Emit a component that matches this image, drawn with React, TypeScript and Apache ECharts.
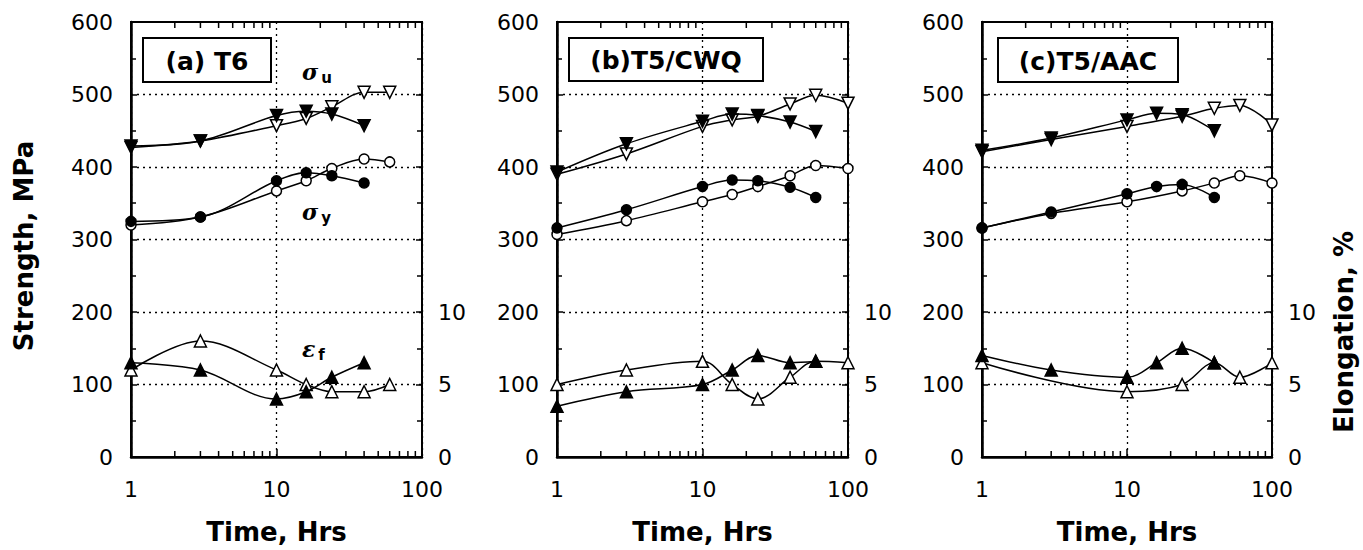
import React, { useEffect, useRef } from "react";
import * as echarts from "echarts";

// ---------- data ----------
const TIME_TICKS_MINOR = [2, 3, 4, 5, 6, 7, 8, 9, 20, 30, 40, 50, 60, 70, 80, 90];
const STRENGTH_LABEL_MAX = 600;
const ELONG_LABELS = [0, 5, 10];

// (a) T6
const aUtsFilled = [[1, 429], [3, 436], [10, 471], [16, 477], [24, 473], [40, 457]];
const aUtsOpen = [[1, 427], [3, 436], [10, 457], [16, 467], [24, 483], [40, 503], [60, 503]];
const aYsFilled = [[1, 325], [3, 331], [10, 381], [16, 392], [24, 388], [40, 378]];
const aYsOpen = [[1, 320], [3, 331], [10, 367], [16, 381], [24, 398], [40, 411], [60, 407]];
const aElFilled = [[1, 6.5], [3, 6.0], [10, 4.0], [16, 4.5], [24, 5.5], [40, 6.5]];
const aElOpen = [[1, 6.0], [3, 8.0], [10, 6.0], [16, 5.0], [24, 4.5], [40, 4.5], [60, 5.0]];

// (b) T5/CWQ
const bUtsFilled = [[1, 393], [3, 432], [10, 463], [16, 473], [24, 471], [40, 462], [60, 449]];
const bUtsOpen = [[1, 390], [3, 418], [10, 456], [16, 465], [24, 470], [40, 487], [60, 499], [100, 488]];
const bYsFilled = [[1, 316], [3, 341], [10, 373], [16, 382], [24, 381], [40, 372], [60, 358]];
const bYsOpen = [[1, 307], [3, 326], [10, 352], [16, 362], [24, 373], [40, 388], [60, 402], [100, 398]];
const bElFilled = [[1, 3.5], [3, 4.5], [10, 5.0], [16, 6.0], [24, 7.0], [40, 6.5], [60, 6.6]];
const bElOpen = [[1, 5.0], [3, 6.0], [10, 6.6], [16, 5.0], [24, 4.0], [40, 5.5], [60, 6.6], [100, 6.5]];

// (c) T5/AAC
const cUtsFilled = [[1, 423], [3, 440], [10, 465], [16, 474], [24, 472], [40, 450]];
const cUtsOpen = [[1, 421], [3, 438], [10, 456], [24, 470], [40, 481], [60, 485], [100, 458]];
const cYsFilled = [[1, 316], [3, 338], [10, 363], [16, 373], [24, 376], [40, 358]];
const cYsOpen = [[1, 316], [3, 336], [10, 352], [24, 367], [40, 378], [60, 388], [100, 378]];
const cElFilled = [[1, 7.0], [3, 6.0], [10, 5.5], [16, 6.5], [24, 7.5], [40, 6.5]];
const cElOpen = [[1, 6.5], [10, 4.5], [24, 5.0], [40, 6.5], [60, 5.5], [100, 6.5]];

const panelLabels = ["(a) T6", "(b)T5/CWQ", "(c)T5/AAC"];

const panelData = [
  { utsF: aUtsFilled, utsO: aUtsOpen, ysF: aYsFilled, ysO: aYsOpen, elF: aElFilled, elO: aElOpen },
  { utsF: bUtsFilled, utsO: bUtsOpen, ysF: bYsFilled, ysO: bYsOpen, elF: bElFilled, elO: bElOpen },
  { utsF: cUtsFilled, utsO: cUtsOpen, ysF: cYsFilled, ysO: cYsOpen, elF: cElFilled, elO: cElOpen },
];

// ---------- layout ----------
const grids = [
  { left: 131, width: 291 },
  { left: 557, width: 291 },
  { left: 982, width: 290 },
];
const GRID_TOP = 22;
const GRID_H = 438;
const boxes = [
  { x: 143, y: 38, w: 128, h: 44 },
  { x: 569, y: 38, w: 194, h: 43 },
  { x: 998, y: 38, w: 180, h: 44 },
];

const FONT = "DejaVu Sans";

export default function App() {
  const ref = useRef<HTMLDivElement>(null);

  useEffect(() => {
    document.body.style.margin = "0";
    const chart = echarts.init(ref.current!, null, { renderer: "svg" });

    const grid: any[] = [];
    const xAxis: any[] = [];
    const yAxis: any[] = [];
    const series: any[] = [];
    const graphic: any[] = [];

    const lineSeries = (
      data: number[][],
      xi: number,
      yi: number,
      symbol: string,
      filled: boolean,
      rotate: number,
      size: number
    ) => ({
      type: "line",
      xAxisIndex: xi,
      yAxisIndex: yi,
      data,
      smooth: 0.35,
      symbol,
      symbolSize: size,
      symbolRotate: rotate,
      showAllSymbol: true,
      lineStyle: { color: "#000", width: 1.5 },
      itemStyle: {
        color: filled ? "#000" : "#fff",
        borderColor: "#000",
        borderWidth: 1.5,
      },
      z: filled ? 4 : 3,
    });

    grids.forEach((g, i) => {
      grid.push({
        left: g.left,
        top: GRID_TOP,
        width: g.width,
        height: GRID_H,
        show: true,
        borderColor: "#000",
        borderWidth: 2,
        backgroundColor: "transparent",
      });
      xAxis.push({
        type: "log",
        logBase: 10,
        gridIndex: i,
        min: 1,
        max: 100,
        axisLine: { show: true, lineStyle: { color: "#000", width: 2.5 } },
        axisTick: { show: true, inside: true, length: 8, lineStyle: { color: "#000", width: 1.5 } },
        axisLabel: {
          color: "#000",
          fontFamily: FONT,
          fontSize: 22,
          margin: 21,
          formatter: (v: number) => String(Math.round(v)),
        },
        splitLine: { show: true, lineStyle: { color: "#000", type: [2, 4], width: 1.3 } },
        name: "Time, Hrs",
        nameLocation: "middle",
        nameGap: 62,
        nameTextStyle: { color: "#000", fontFamily: FONT, fontSize: 26, fontWeight: "bold" },
      });
      yAxis.push({
        type: "value",
        gridIndex: i,
        position: "left",
        min: 0,
        max: STRENGTH_LABEL_MAX,
        interval: 100,
        axisLine: { show: true, lineStyle: { color: "#000", width: 2.5 } },
        axisTick: { show: true, inside: true, length: 6, lineStyle: { color: "#000", width: 1.5 } },
        minorTick: { show: true, splitNumber: 2, length: 5, lineStyle: { color: "#000", width: 1.5 } },
        axisLabel: { color: "#000", fontFamily: FONT, fontSize: 22, margin: 18 },
        splitLine: {
          show: true,
          showMinLine: false,
          showMaxLine: false,
          lineStyle: { color: "#000", type: [2, 4], width: 1.3 },
        },
      });
      yAxis.push({
        type: "value",
        gridIndex: i,
        position: "right",
        min: 0,
        max: 30,
        interval: 5,
        axisLine: { show: true, lineStyle: { color: "#000", width: 2 } },
        axisTick: { show: true, inside: true, length: 6, lineStyle: { color: "#000", width: 1.5 } },
        minorTick: { show: true, splitNumber: 2, length: 5, lineStyle: { color: "#000", width: 1.5 } },
        axisLabel: {
          color: "#000",
          fontFamily: FONT,
          fontSize: 22,
          margin: 16,
          formatter: (v: number) => (ELONG_LABELS.indexOf(v) >= 0 ? String(v) : ""),
        },
        splitLine: { show: false },
      });

      const d = panelData[i];
      const ys = 2 * i;
      const ye = 2 * i + 1;
      series.push(lineSeries(d.utsO, i, ys, "triangle", false, 180, 12));
      series.push(lineSeries(d.utsF, i, ys, "triangle", true, 180, 12));
      series.push(lineSeries(d.ysO, i, ys, "circle", false, 0, 10));
      series.push(lineSeries(d.ysF, i, ys, "circle", true, 0, 10));
      series.push(lineSeries(d.elO, i, ye, "triangle", false, 0, 12));
      series.push(lineSeries(d.elF, i, ye, "triangle", true, 0, 12));

      // minor log ticks on bottom and top frame
      series.push({
        type: "custom",
        xAxisIndex: i,
        yAxisIndex: ys,
        silent: true,
        clip: false,
        z: 6,
        data: TIME_TICKS_MINOR.map((v) => [v, 0]),
        encode: { x: 0, y: 1 },
        renderItem: (_p: any, api: any) => {
          const v = api.value(0);
          const b = api.coord([v, 0]);
          const t = api.coord([v, STRENGTH_LABEL_MAX]);
          return {
            type: "group",
            children: [
              { type: "line", shape: { x1: b[0], y1: b[1], x2: b[0], y2: b[1] - 6 }, style: { stroke: "#000", lineWidth: 1.5 } },
              { type: "line", shape: { x1: t[0], y1: t[1], x2: t[0], y2: t[1] + 6 }, style: { stroke: "#000", lineWidth: 1.5 } },
            ],
          };
        },
      });

      const bx = boxes[i];
      graphic.push({
        type: "rect",
        shape: { x: bx.x, y: bx.y, width: bx.w, height: bx.h },
        style: { fill: "none", stroke: "#000", lineWidth: 2 },
        z: 10,
      });
      graphic.push({
        type: "text",
        x: bx.x + bx.w / 2,
        y: bx.y + bx.h / 2 + 1,
        style: {
          text: panelLabels[i],
          fontFamily: FONT,
          fontSize: 25,
          fontWeight: "bold",
          fill: "#000",
          align: "center",
          verticalAlign: "middle",
        },
        z: 10,
      });
    });

    const sym = (x: number, y: number, main: string, sub: string) => ({
      type: "text",
      x,
      y,
      style: {
        text: `{m|${main}}{s|${sub}}`,
        rich: {
          m: { fontFamily: "DejaVu Serif", fontStyle: "italic", fontWeight: "bold", fontSize: 22, fill: "#000" },
          s: { fontFamily: FONT, fontWeight: "bold", fontSize: 15, fill: "#000", padding: [12, 0, 0, 3] },
        },
        verticalAlign: "middle",
      },
      z: 10,
    });
    graphic.push(sym(302, 72, "σ", "u"));
    graphic.push(sym(302, 212, "σ", "y"));
    graphic.push(sym(302, 349, "ε", "f"));

    graphic.push({
      type: "text",
      x: 24,
      y: 246,
      rotation: Math.PI / 2,
      style: {
        text: "Strength, MPa",
        fontFamily: FONT,
        fontSize: 26,
        fontWeight: "bold",
        fill: "#000",
        align: "center",
        verticalAlign: "middle",
      },
    });
    graphic.push({
      type: "text",
      x: 1344,
      y: 332,
      rotation: Math.PI / 2,
      style: {
        text: "Elongation, %",
        fontFamily: FONT,
        fontSize: 26,
        fontWeight: "bold",
        fill: "#000",
        align: "center",
        verticalAlign: "middle",
      },
    });

    chart.setOption({
      animation: false,
      backgroundColor: "#fff",
      grid,
      xAxis,
      yAxis,
      series,
      graphic,
    });

    return () => chart.dispose();
  }, []);

  return <div ref={ref} style={{ width: 1363, height: 550 }} />;
}
